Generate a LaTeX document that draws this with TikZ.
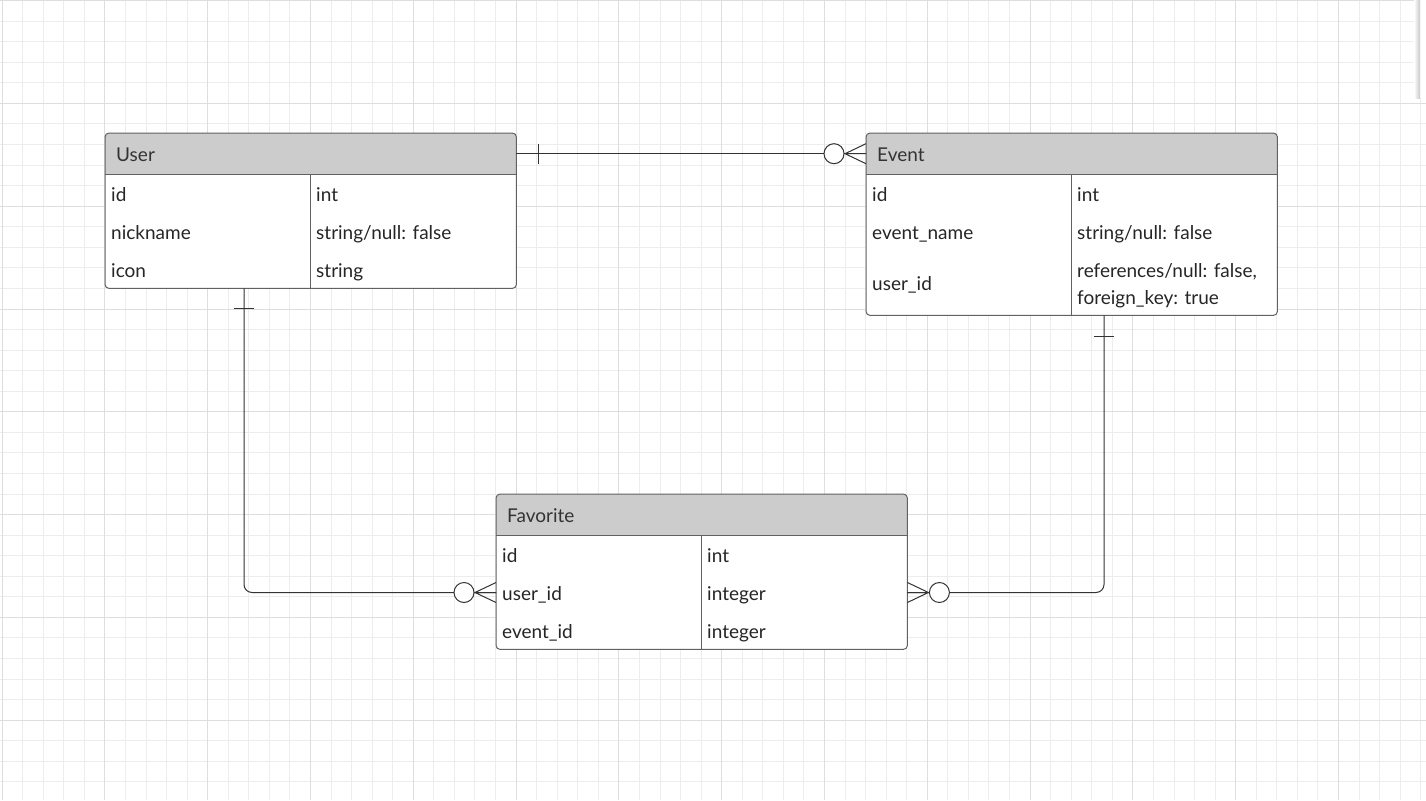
\documentclass[tikz,border=0pt]{standalone}
\usepackage{fontspec}
\setmainfont{Lato}
\usetikzlibrary{calc}

\begin{document}
\begin{tikzpicture}[
        x=1pt, y=-1pt,
        gridminor/.style={draw=black!7, line width=0.8pt},
        gridmajor/.style={draw=black!13, line width=0.8pt},
        entity/.style={fill=white, inner sep=0pt, anchor=north west},
        headbox/.style={inner sep=0pt, minimum height=41pt, anchor=north west},
        headfill/.style={fill=gray!40},
        outline/.style={draw=black!62, line width=1pt},
        title/.style={anchor=base west, inner sep=0pt, text=black!80,
            font=\fontsize{19}{22}\selectfont},
        field/.style={anchor=base west, inner sep=0pt, text=black!85, align=left,
            font=\fontsize{19}{27}\selectfont},
        conn/.style={draw=black!80, line width=1pt},
        zeromany/.pic={
            \draw[conn] (0,-10) -- (-21,0) -- (0,10) (0,0) -- (-21,0);
            \draw[conn, fill=white] (-32,0) circle (10pt);
        },
    ]
    \useasboundingbox (0,0) rectangle (1426,800);
    \fill[white] (0,0) rectangle (1426,800);

    % background grid
    \foreach \i in {0,...,69}
        \draw[gridminor] ({2+20.56*\i},0) -- ++(0,800);
    \foreach \j in {0,...,38}
        \draw[gridminor] (0,{0.5+20.56*\j}) -- ++(1426,0);
    \foreach \i in {0,5,...,65}
        \draw[gridmajor] ({2+20.56*\i},0) -- ++(0,800);
    \foreach \j in {0,5,...,35}
        \draw[gridmajor] (0,{0.5+20.56*\j}) -- ++(1426,0);

    % panel edge, top right
    \fill[white] (1420,0) rectangle (1426,98);
    \shade[left color=white, right color=black!22] (1414,0) rectangle (1420,98);

    % User
    \node[entity, minimum width=411pt, minimum height=155pt] (user) at (105,133) {};
    \node[headbox, minimum width=411pt] (userhead) at (user.north west) {};
    \fill[headfill] (userhead.south west) [rounded corners=4pt] -- (userhead.north west)
        -- (userhead.north east) [sharp corners] -- (userhead.south east) -- cycle;
    \draw[outline] (userhead.south west) -- (userhead.south east)
        (310,174) -- (310,288);
    \draw[outline, rounded corners=4pt] (user.north west) rectangle (user.south east);
    \node[title] (user-title) at (116,161) {User};
    \node[field] (user-id) at (111,201.5) {id};
    \node[field] (user-id-t) at (316,201.5) {int};
    \node[field] (user-nick) at (111,239.5) {nickname};
    \node[field] (user-nick-t) at (316,239.5) {string/null: false};
    \node[field] (user-icon) at (111,277.5) {icon};
    \node[field] (user-icon-t) at (316,277.5) {string};

    % Event
    \node[entity, minimum width=411pt, minimum height=182pt] (event) at (866,133) {};
    \node[headbox, minimum width=411pt] (eventhead) at (event.north west) {};
    \fill[headfill] (eventhead.south west) [rounded corners=4pt] -- (eventhead.north west)
        -- (eventhead.north east) [sharp corners] -- (eventhead.south east) -- cycle;
    \draw[outline] (eventhead.south west) -- (eventhead.south east)
        (1071,174) -- (1071,315);
    \draw[outline, rounded corners=4pt] (event.north west) rectangle (event.south east);
    \node[title] (event-title) at (877,161) {Event};
    \node[field] (event-id) at (872,201.5) {id};
    \node[field] (event-id-t) at (1077,201.5) {int};
    \node[field] (event-name) at (872,239.5) {event\_name};
    \node[field] (event-name-t) at (1077,239.5) {string/null: false};
    \node[field] (event-uid) at (872,290.5) {user\_id};
    \node[field] (event-uid-t) at (1077,304.5) {references/null: false,\\foreign\_key: true};

    % Favorite
    \node[entity, minimum width=411pt, minimum height=155pt] (favorite) at (496,494) {};
    \node[headbox, minimum width=411pt] (favhead) at (favorite.north west) {};
    \fill[headfill] (favhead.south west) [rounded corners=4pt] -- (favhead.north west)
        -- (favhead.north east) [sharp corners] -- (favhead.south east) -- cycle;
    \draw[outline] (favhead.south west) -- (favhead.south east)
        (701,535) -- (701,649);
    \draw[outline, rounded corners=4pt] (favorite.north west) rectangle (favorite.south east);
    \node[title] (fav-title) at (507,522) {Favorite};
    \node[field] (fav-id) at (502,562.5) {id};
    \node[field] (fav-id-t) at (707,562.5) {int};
    \node[field] (fav-uid) at (502,600.5) {user\_id};
    \node[field] (fav-uid-t) at (707,600.5) {integer};
    \node[field] (fav-eid) at (502,638.5) {event\_id};
    \node[field] (fav-eid-t) at (707,638.5) {integer};

    % relations
    \coordinate (user-foot) at ([xshift=139pt]user.south west);
    \coordinate (event-foot) at ([xshift=238pt]event.south west);
    \coordinate (fav-link) at (0,592.5);
    \draw[conn] (userhead.east) -- (eventhead.west);
    \draw[conn] ([shift={(22pt,10pt)}]userhead.east) -- ([shift={(22pt,-10pt)}]userhead.east);
    \pic at (eventhead.west) {zeromany};

    \draw[conn, rounded corners=8pt] (user-foot) |- (favorite.west |- fav-link);
    \draw[conn] ([shift={(-10pt,-20pt)}]user-foot) -- ([shift={(10pt,-20pt)}]user-foot);
    \pic at (favorite.west |- fav-link) {zeromany};

    \draw[conn, rounded corners=8pt] (event-foot) |- (favorite.east |- fav-link);
    \draw[conn] ([shift={(-10pt,-21pt)}]event-foot) -- ([shift={(10pt,-21pt)}]event-foot);
    \pic[rotate=180] at (favorite.east |- fav-link) {zeromany};
\end{tikzpicture}
\end{document}
